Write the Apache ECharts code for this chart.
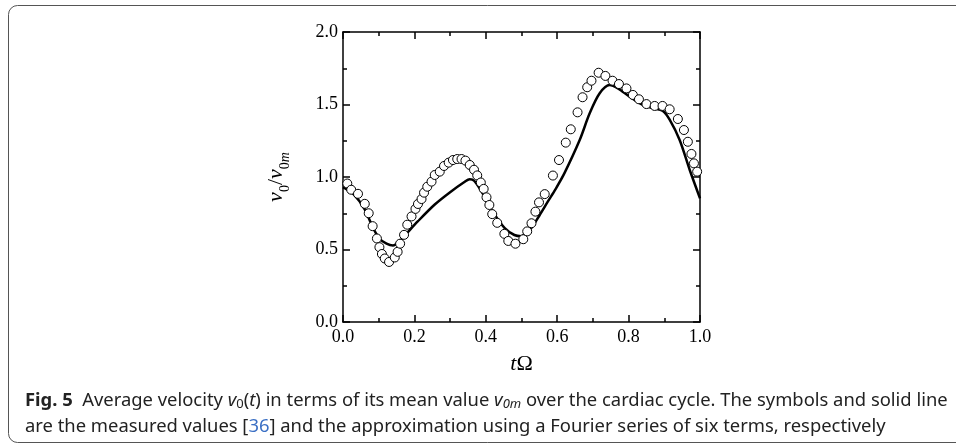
<!DOCTYPE html>
<html>
<head>
<meta charset="utf-8">
<script src="https://cdn.jsdelivr.net/npm/echarts@6/dist/echarts.min.js"></script>
<style>
  html, body { margin: 0; padding: 0; background: #fff; }
  #main { width: 956px; height: 444px; }
</style>
</head>
<body>
<div id="main"></div>
<script>
// measured values (symbols)
var measT = [0.012, 0.023, 0.042, 0.061, 0.072, 0.083, 0.095, 0.102, 0.109, 0.117,
  0.129, 0.145, 0.153, 0.160, 0.171, 0.180, 0.192, 0.203, 0.210, 0.220,
  0.227, 0.236, 0.248, 0.257, 0.271, 0.283, 0.296, 0.308, 0.320, 0.332,
  0.343, 0.355, 0.367, 0.376, 0.386, 0.394, 0.402, 0.410, 0.418, 0.432,
  0.452, 0.463, 0.483, 0.505, 0.516, 0.528, 0.539, 0.549, 0.565, 0.588,
  0.605, 0.624, 0.638, 0.657, 0.671, 0.684, 0.696, 0.716, 0.735, 0.755,
  0.773, 0.794, 0.812, 0.829, 0.850, 0.873, 0.895, 0.915, 0.938, 0.955,
  0.966, 0.976, 0.983, 0.992];
var measV = [0.955, 0.912, 0.884, 0.815, 0.750, 0.661, 0.576, 0.516, 0.469, 0.438,
  0.414, 0.445, 0.484, 0.540, 0.601, 0.671, 0.728, 0.780, 0.814, 0.848,
  0.892, 0.933, 0.968, 1.014, 1.037, 1.076, 1.099, 1.117, 1.124, 1.124,
  1.113, 1.083, 1.050, 1.011, 0.962, 0.918, 0.860, 0.807, 0.744, 0.684,
  0.608, 0.559, 0.540, 0.571, 0.625, 0.681, 0.761, 0.825, 0.882, 1.010,
  1.117, 1.237, 1.329, 1.446, 1.550, 1.619, 1.664, 1.719, 1.697, 1.664,
  1.641, 1.611, 1.566, 1.536, 1.503, 1.490, 1.490, 1.467, 1.400, 1.324,
  1.243, 1.159, 1.094, 1.037];

// Fourier approximation (solid line)
var fitT = [0.000, 0.030, 0.060, 0.084, 0.103, 0.122, 0.140, 0.160, 0.180, 0.210,
  0.257, 0.300, 0.340, 0.355, 0.368, 0.397, 0.425, 0.453, 0.480, 0.500,
  0.515, 0.528, 0.551, 0.574, 0.595, 0.620, 0.663, 0.691, 0.719, 0.747,
  0.770, 0.803, 0.840, 0.868, 0.896, 0.915, 0.943, 0.971, 1.000];
var fitV = [0.930, 0.880, 0.780, 0.650, 0.572, 0.540, 0.528, 0.560, 0.615, 0.695,
  0.810, 0.895, 0.965, 0.985, 0.972, 0.864, 0.740, 0.648, 0.600, 0.592,
  0.622, 0.650, 0.738, 0.832, 0.915, 1.025, 1.255, 1.439, 1.577, 1.634,
  1.611, 1.554, 1.497, 1.474, 1.455, 1.395, 1.255, 1.050, 0.853];

var xTicks = [0, 0.2, 0.4, 0.6, 0.8, 1.0];
var yTicks = [0, 0.5, 1.0, 1.5, 2.0];

function zip(a, b) {
  return a.map(function (v, i) { return [v, b[i]]; });
}

var serif = 'Liberation Serif';
var sans = 'Noto Sans';
var capSize = 18.4;
var tickStyle = { show: true, inside: true, length: 7, lineStyle: { color: '#000', width: 1.5 } };
var minorStyle = { show: true, splitNumber: 2, length: 4, lineStyle: { color: '#000', width: 1.5 } };
var lineStyle = { show: true, onZero: false, lineStyle: { color: '#000', width: 1.5 } };

function xAxis(pos, labels) {
  return {
    type: 'value', position: pos, min: xTicks[0], max: xTicks[xTicks.length - 1], interval: 0.2,
    axisLine: lineStyle, axisTick: tickStyle, minorTick: minorStyle,
    splitLine: { show: false },
    axisLabel: {
      show: labels, margin: 6, color: '#000', fontFamily: serif, fontSize: 18,
      formatter: function (v) { return v.toFixed(1); }
    }
  };
}
function yAxis(pos, labels) {
  return {
    type: 'value', position: pos, min: yTicks[0], max: yTicks[yTicks.length - 1], interval: 0.5,
    axisLine: lineStyle, axisTick: tickStyle, minorTick: minorStyle,
    splitLine: { show: false },
    axisLabel: {
      show: labels, margin: 5, color: '#000', fontFamily: serif, fontSize: 18,
      formatter: function (v) { return v.toFixed(1); }
    }
  };
}

var xa = xAxis('bottom', true);
xa.name = '{i|t}{n|Ω}';
xa.nameLocation = 'middle';
xa.nameGap = 31;
xa.nameTextStyle = {
  rich: {
    i: { fontFamily: serif, fontStyle: 'italic', fontSize: 22, color: '#000' },
    n: { fontFamily: serif, fontSize: 22, color: '#000' }
  }
};
var ya = yAxis('left', true);
ya.name = '{i|v}{s|0}{n|/}{i|v}{s|0}{si|m}';
ya.nameLocation = 'middle';
ya.nameGap = 56;
ya.nameTextStyle = {
  rich: {
    i: { fontFamily: serif, fontStyle: 'italic', fontSize: 22, color: '#000', lineHeight: 24, verticalAlign: 'bottom' },
    n: { fontFamily: serif, fontSize: 22, color: '#000', lineHeight: 24, verticalAlign: 'bottom' },
    s: { fontFamily: serif, fontSize: 14, color: '#000', lineHeight: 24, verticalAlign: 'bottom', padding: [0, 0, -5, 0] },
    si: { fontFamily: serif, fontStyle: 'italic', fontSize: 14, color: '#000', lineHeight: 24, verticalAlign: 'bottom', padding: [0, 0, -5, 0] }
  }
};

var chart = echarts.init(document.getElementById('main'), null, { renderer: 'canvas' });
chart.setOption({
  animation: false,
  backgroundColor: '#fff',
  grid: { left: 343, right: 256, top: 32, bottom: 122 },
  xAxis: [xa, xAxis('top', false)],
  yAxis: [ya, yAxis('right', false)],
  series: [
    {
      type: 'line', data: zip(fitT, fitV), smooth: 0.3, showSymbol: false,
      lineStyle: { color: '#000', width: 2.5 }, z: 2
    },
    {
      type: 'scatter', data: zip(measT, measV), symbol: 'circle', symbolSize: 9,
      itemStyle: { color: '#fff', borderColor: '#000', borderWidth: 1, opacity: 1 }, z: 3
    }
  ],
  graphic: [
    {
      type: 'rect', shape: { x: 8.5, y: 5.5, width: 1000, height: 437, r: 9 },
      style: { fill: 'none', stroke: '#555', lineWidth: 1 }, silent: true
    },
    {
      type: 'text', x: 25, y: 401,
      style: {
        text: '{b|Fig. 5}  Average velocity {i|v}{s|0}({i|t}) in terms of its mean value {i|v}{si|0m} over the cardiac cycle. The symbols and solid line',
        rich: {
          b: { fontFamily: sans, fontWeight: 'bold', fontSize: capSize, fill: '#222' },
          i: { fontFamily: sans, fontStyle: 'italic', fontSize: capSize, fill: '#222' },
          s: { fontFamily: sans, fontSize: 13, fill: '#222', padding: [7, 0, 0, 0] },
          si: { fontFamily: sans, fontStyle: 'italic', fontSize: 13, fill: '#222', padding: [7, 0, 0, 0] }
        },
        fontFamily: sans, fontSize: capSize, fill: '#222', verticalAlign: 'middle'
      }
    },
    {
      type: 'text', x: 25, y: 427,
      style: {
        text: 'are the measured values [{a|36}] and the approximation using a Fourier series of six terms, respectively',
        rich: { a: { fontFamily: sans, fontSize: capSize, fill: '#3a6fc4' } },
        fontFamily: sans, fontSize: capSize, fill: '#222', verticalAlign: 'middle'
      }
    }
  ]
});
</script>
</body>
</html>
